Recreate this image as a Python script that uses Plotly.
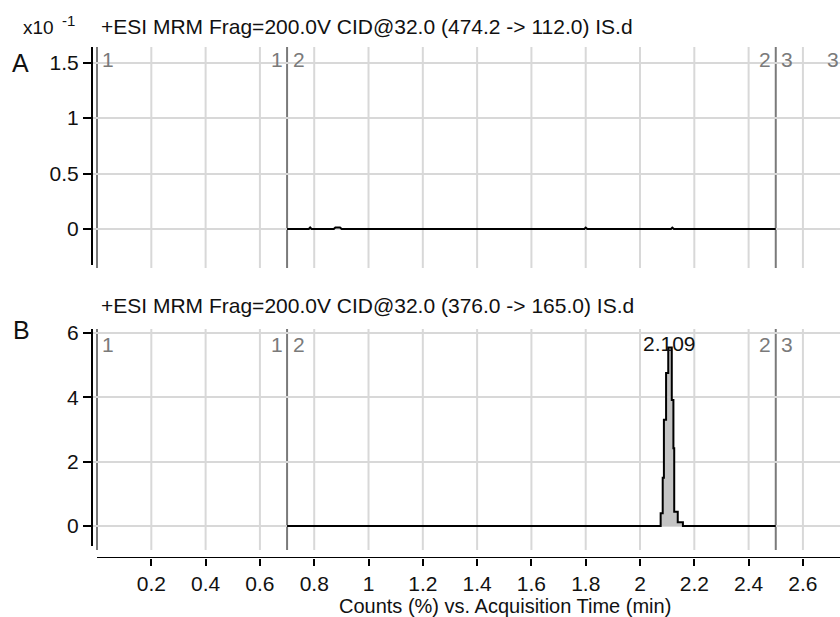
import plotly.graph_objects as go

# ---------------- data ----------------
# Panel A: 474.2 -> 112.0 (values in x10^-1 counts %)
a_time = [0.700, 0.780, 0.785, 0.790, 0.872, 0.878, 0.895, 0.901, 1.795, 1.800, 1.806, 2.114, 2.119, 2.125, 2.500]
a_val = [0.0, 0.0, 0.014, 0.0, 0.0, 0.014, 0.014, 0.0, 0.0, 0.012, 0.0, 0.0, 0.012, 0.0, 0.0]

# Panel B: 376.0 -> 165.0 (step-wise chromatogram)
b_time = [0.700, 2.076, 2.0836, 2.088, 2.096, 2.104, 2.117, 2.123, 2.126, 2.139, 2.158, 2.500]
b_val = [0.0, 0.40, 1.50, 3.30, 4.76, 5.55, 3.92, 2.42, 0.44, 0.12, 0.0, 0.0]

peak_time = 2.109
peak_label = "2.109"

segment_bounds = [0.0, 0.7, 2.5]

x_ticks = [0.2, 0.4, 0.6, 0.8, 1.0, 1.2, 1.4, 1.6, 1.8, 2.0, 2.2, 2.4, 2.6]
x_tick_text = ["0.2", "0.4", "0.6", "0.8", "1", "1.2", "1.4", "1.6", "1.8", "2", "2.2", "2.4", "2.6"]
a_yticks = [0, 0.5, 1, 1.5]
a_ytext = ["0", "0.5", "1", "1.5"]
b_yticks = [0, 2, 4, 6]
b_ytext = ["0", "2", "4", "6"]

title_a = "+ESI MRM Frag=200.0V CID@32.0 (474.2 -> 112.0) IS.d"
title_b = "+ESI MRM Frag=200.0V CID@32.0 (376.0 -> 165.0) IS.d"
x_title = "Counts (%) vs. Acquisition Time (min)"

# ---------------- layout geometry ----------------
W, H = 840, 617
FONT = "Liberation Sans, Arial, sans-serif"
GRID = "#d8d8d8"
SEG = "#7a7a7a"

def py(p):
    return 1 - p / H

x_range = [-0.0185, 2.7366]
a_range = [-0.3514, 1.6396]
b_range = [-0.995, 6.124]

fig = go.Figure()
fig.add_trace(go.Scatter(x=a_time, y=a_val, mode="lines", line=dict(color="black", width=2),
                         xaxis="x", yaxis="y", showlegend=False, hoverinfo="skip"))
fig.add_trace(go.Scatter(x=b_time, y=b_val, mode="lines", line=dict(color="black", width=2, shape="hv"),
                         fill="tozeroy", fillcolor="#c4c4c4",
                         xaxis="x2", yaxis="y2", showlegend=False, hoverinfo="skip"))

axis_font = dict(family=FONT, size=21, color="#111")

fig.update_layout(
    width=W, height=H, margin=dict(l=0, r=0, t=0, b=0),
    paper_bgcolor="white", plot_bgcolor="white",
    font=dict(family=FONT, size=20, color="#111"),
    xaxis=dict(domain=[92 / W, 1], range=x_range, showgrid=False, zeroline=False,
               showticklabels=False, ticks="", showline=False, anchor="y"),
    yaxis=dict(domain=[py(268), py(47)], range=a_range, showgrid=True, gridcolor=GRID, gridwidth=2,
               zeroline=False, showline=False, tickvals=a_yticks, ticktext=a_ytext,
               ticks="outside", ticklen=8, tickwidth=2, tickcolor="black", tickfont=axis_font,
               anchor="x", automargin=False),
    xaxis2=dict(domain=[92 / W, 1], range=x_range, showgrid=False, zeroline=False,
                tickvals=x_ticks, ticktext=x_tick_text, ticks="outside", ticklen=7, tickwidth=2,
                tickcolor="black", tickfont=axis_font, showline=False, anchor="y2", automargin=False),
    yaxis2=dict(domain=[py(558), py(329)], range=b_range, showgrid=True, gridcolor=GRID, gridwidth=2,
                zeroline=False, showline=False, tickvals=b_yticks, ticktext=b_ytext,
                ticks="outside", ticklen=8, tickwidth=2, tickcolor="black", tickfont=axis_font,
                anchor="x2", automargin=False),
)

shapes = []
# vertical grid lines
for t in x_ticks:
    shapes.append(dict(type="line", xref="x", yref="y", x0=t, x1=t, y0=a_range[0], y1=a_range[1],
                       line=dict(color=GRID, width=2), layer="below"))
    shapes.append(dict(type="line", xref="x2", yref="y2", x0=t, x1=t, y0=-0.746, y1=b_range[1],
                       line=dict(color=GRID, width=2), layer="below"))
# segment boundary lines
for t in segment_bounds:
    shapes.append(dict(type="line", xref="x", yref="y", x0=t, x1=t, y0=a_range[0], y1=a_range[1],
                       line=dict(color=SEG, width=2), layer="below"))
    shapes.append(dict(type="line", xref="x2", yref="y2", x0=t, x1=t, y0=-0.746, y1=b_range[1],
                       line=dict(color=SEG, width=2), layer="below"))
# y-axis black lines
shapes.append(dict(type="line", xref="paper", yref="y", x0=92 / W, x1=92 / W, y0=-0.324, y1=a_range[1],
                   line=dict(color="black", width=2)))
shapes.append(dict(type="line", xref="paper", yref="y2", x0=92 / W, x1=92 / W, y0=-0.62, y1=b_range[1],
                   line=dict(color="black", width=2)))
# x-axis black line
shapes.append(dict(type="line", xref="x2", yref="y2", x0=0, x1=x_range[1], y0=b_range[0], y1=b_range[0],
                   line=dict(color="black", width=2)))
fig.update_layout(shapes=shapes)

ann = []
def text(x, y, s, size=20, color="#111", xanchor="left"):
    ann.append(dict(x=x / W, y=py(y), xref="paper", yref="paper", text=s, showarrow=False,
                    xanchor=xanchor, yanchor="middle", font=dict(family=FONT, size=size, color=color)))

text(21, 27, "x10", 19)
text(60, 20, "-1", 15)
text(99, 26, title_a, 21)
text(10, 63, "A", 25)
text(99, 305, title_b, 21)
text(11, 330, "B", 25)
# segment labels
for yy in (60, 344):
    text(100, yy, "1", 21, SEG)
    text(285, yy, "1", 21, SEG, "right")
    text(291, yy, "2", 21, SEG)
    text(773, yy, "2", 21, SEG, "right")
    text(779, yy, "3", 21, SEG)
text(841, 60, "3", 21, SEG, "right")
fig.update_layout(annotations=ann)

# peak label and x title
fig.add_annotation(x=peak_time, y=b_range[1], xref="x2", yref="y2", text=peak_label, showarrow=False,
                   yanchor="top", yshift=-1, font=dict(family=FONT, size=21, color="#111"))
fig.add_annotation(x=505 / W, y=py(606), xref="paper", yref="paper", text=x_title, showarrow=False,
                   xanchor="center", yanchor="middle", font=dict(family=FONT, size=20, color="#111"))

fig.write_html("out.html")
